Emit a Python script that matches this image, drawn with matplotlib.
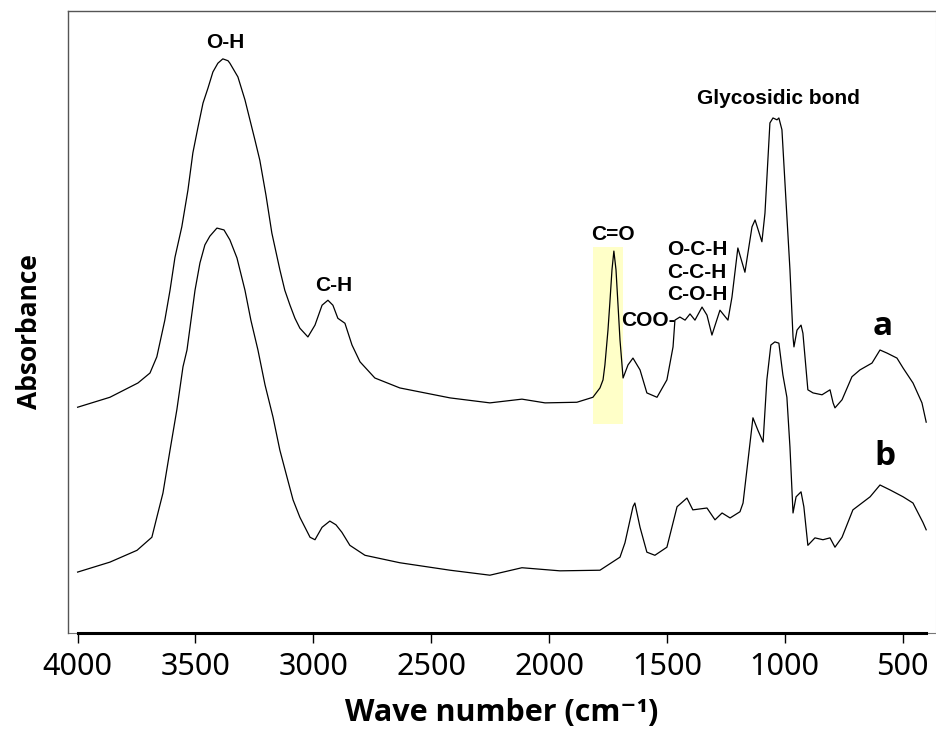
import matplotlib
matplotlib.use("Agg")
import matplotlib.pyplot as plt
from matplotlib.patches import Rectangle

# FTIR spectra (wavenumber in cm-1, absorbance in a.u.)
wn_a = [4000, 3863, 3744, 3693, 3664, 3630, 3608, 3587, 3558, 3532, 3511, 3490,
        3468, 3447, 3426, 3405, 3384, 3362, 3354, 3320, 3290, 3269, 3248, 3227,
        3201, 3176, 3142, 3121, 3099, 3078, 3057, 3023, 2993, 2963, 2938, 2917,
        2896, 2866, 2836, 2802, 2739, 2633, 2420, 2251, 2115, 2017, 1882, 1814,
        1784, 1771, 1763, 1750, 1742, 1733, 1725, 1716, 1708, 1699, 1686, 1665,
        1644, 1614, 1585, 1542, 1500, 1474, 1466, 1445, 1423, 1402, 1381, 1351,
        1330, 1309, 1275, 1241, 1224, 1199, 1169, 1139, 1126, 1097, 1084, 1063,
        1050, 1033, 1025, 1012, 995, 978, 965, 961, 948, 931, 923, 902, 880,
        842, 808, 795, 787, 757, 715, 681, 630, 596, 566, 524, 498, 456, 418,
        400]
abs_a = [0.363, 0.379, 0.402, 0.418, 0.444, 0.503, 0.551, 0.604, 0.653, 0.712,
         0.772, 0.812, 0.852, 0.876, 0.902, 0.916, 0.923, 0.920, 0.916, 0.894,
         0.857, 0.825, 0.793, 0.760, 0.704, 0.643, 0.584, 0.551, 0.527, 0.506,
         0.490, 0.476, 0.495, 0.527, 0.535, 0.527, 0.506, 0.498, 0.463, 0.436,
         0.410, 0.394, 0.378, 0.370, 0.376, 0.370, 0.371, 0.379, 0.394, 0.407,
         0.431, 0.487, 0.531, 0.584, 0.614, 0.584, 0.531, 0.471, 0.410, 0.431,
         0.442, 0.423, 0.386, 0.379, 0.407, 0.460, 0.503, 0.508, 0.503, 0.513,
         0.503, 0.524, 0.511, 0.479, 0.519, 0.503, 0.540, 0.619, 0.580, 0.653,
         0.664, 0.629, 0.675, 0.820, 0.828, 0.825, 0.828, 0.809, 0.696, 0.584,
         0.476, 0.460, 0.487, 0.495, 0.482, 0.391, 0.386, 0.383, 0.391, 0.370,
         0.362, 0.375, 0.412, 0.423, 0.434, 0.455, 0.450, 0.442, 0.426, 0.402,
         0.370, 0.339]

wn_b = [4000, 3863, 3748, 3685, 3664, 3638, 3608, 3579, 3553, 3536, 3519, 3502,
        3481, 3460, 3439, 3409, 3379, 3354, 3324, 3290, 3265, 3235, 3205, 3171,
        3142, 3112, 3086, 3057, 3014, 2993, 2963, 2930, 2904, 2879, 2845, 2781,
        2633, 2420, 2251, 2115, 1954, 1784, 1699, 1678, 1644, 1636, 1614, 1585,
        1551, 1500, 1457, 1415, 1390, 1330, 1296, 1266, 1232, 1190, 1177, 1135,
        1114, 1092, 1076, 1059, 1042, 1025, 1008, 991, 978, 965, 952, 931, 919,
        902, 872, 838, 808, 787, 757, 711, 638, 596, 553, 498, 456, 414, 400]
abs_b = [0.098, 0.114, 0.133, 0.154, 0.186, 0.225, 0.294, 0.359, 0.428, 0.455,
         0.503, 0.551, 0.595, 0.624, 0.638, 0.651, 0.648, 0.632, 0.603, 0.551,
         0.503, 0.455, 0.399, 0.347, 0.294, 0.251, 0.214, 0.186, 0.154, 0.150,
         0.170, 0.180, 0.174, 0.162, 0.141, 0.125, 0.113, 0.101, 0.093, 0.105,
         0.100, 0.101, 0.122, 0.145, 0.203, 0.209, 0.170, 0.130, 0.125, 0.138,
         0.203, 0.217, 0.198, 0.201, 0.182, 0.193, 0.185, 0.195, 0.209, 0.346,
         0.326, 0.307, 0.407, 0.463, 0.468, 0.466, 0.415, 0.379, 0.299, 0.193,
         0.219, 0.227, 0.203, 0.141, 0.153, 0.150, 0.153, 0.138, 0.154, 0.198,
         0.219, 0.238, 0.230, 0.219, 0.209, 0.178, 0.166]

xticks = [4000, 3500, 3000, 2500, 2000, 1500, 1000, 500]

# band labels: text, wavenumber, absorbance
bands = [("O-H", 3375, 0.950), ("C-H", 2913, 0.558), ("C=O", 1729, 0.640),
         ("O-C-H", 1372, 0.616), ("C-C-H", 1372, 0.580), ("C-O-H", 1372, 0.545),
         ("Glycosidic bond", 1025, 0.860)]

fig = plt.figure(figsize=(9.36, 7.31), dpi=100)
ax = fig.add_axes([0.0726, 0.134, 0.927, 0.851])

ax.add_patch(Rectangle((1686, 0.336), 128, 0.285, facecolor='#ffffc8',
                       edgecolor='none', zorder=0))

ax.plot(wn_a, abs_a, color='black', lw=0.9)
ax.plot(wn_b, abs_b, color='black', lw=0.9)

ax.set_xlim(4041, 360)
ax.set_ylim(0, 1)
ax.set_xticks(xticks)
ax.set_yticks([])
ax.tick_params(axis='x', direction='out', length=7, width=1, pad=7,
               labelsize=22)
for lbl in ax.get_xticklabels():
    lbl.set_family(['Noto Sans', 'DejaVu Sans'])

for side in ['left', 'top']:
    ax.spines[side].set_color('#555555')
    ax.spines[side].set_linewidth(1.0)
ax.spines['right'].set_color('#cccccc')
ax.spines['bottom'].set_color('black')
ax.spines['bottom'].set_linewidth(2.2)
ax.spines['bottom'].set_bounds(400, 4000)
ax.axhline(0, color='#777777', lw=0.8, zorder=0, clip_on=False)

for txt, x, y in bands:
    ax.text(x, y, txt, ha='center', va='center', fontsize=15,
            fontweight='bold', family='Liberation Sans')
ax.text(1462, 0.502, "COO-", ha='right', va='center', fontsize=15,
        fontweight='bold', family='Liberation Sans')

ax.text(583, 0.479, "a", ha='center', va='baseline', fontsize=24,
        fontweight='bold', family='Open Sans')
ax.text(575, 0.270, "b", ha='center', va='baseline', fontsize=24,
        fontweight='bold', family='Open Sans')

fig.text(30 / 936, 1 - 332 / 731, "Absorbance", rotation=90, ha='center',
         va='center', fontsize=19, fontweight='bold',
         family=['Open Sans', 'DejaVu Sans'])
fig.text(502 / 936, 1 - 713 / 731, "Wave number (cm\u207b\u00b9)", ha='center',
         va='center', fontsize=22, fontweight='bold',
         family=['Open Sans', 'DejaVu Sans'])

fig.savefig("out.png", dpi=100)
